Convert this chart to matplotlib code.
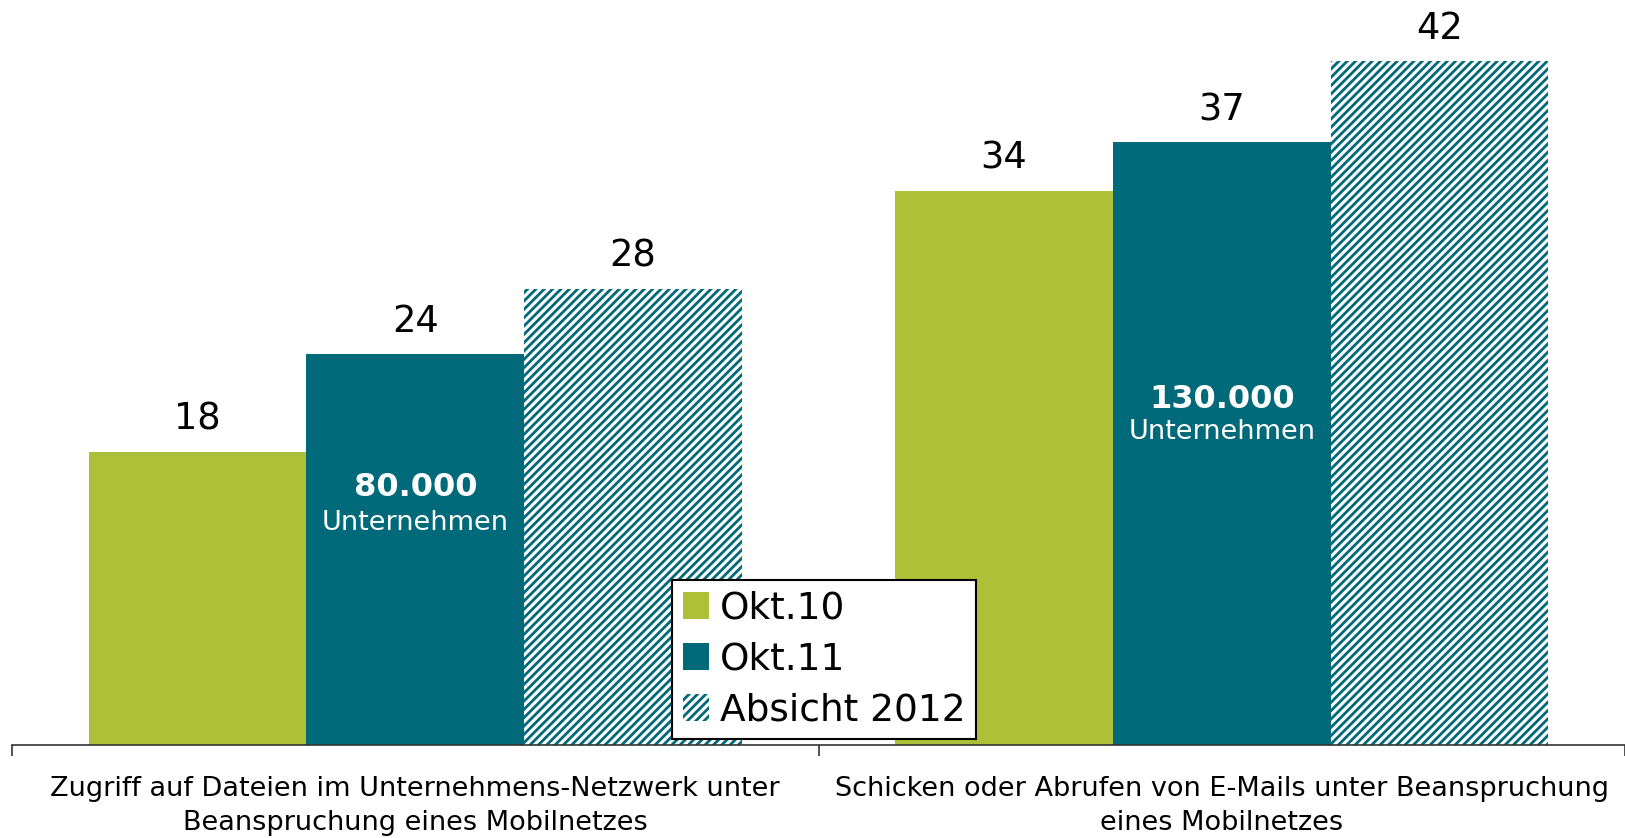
import matplotlib
matplotlib.use("Agg")
import matplotlib.pyplot as plt
import numpy as np

categories = ["Zugriff auf Dateien im Unternehmens-Netzwerk unter\nBeanspruchung eines Mobilnetzes",
              "Schicken oder Abrufen von E-Mails unter Beanspruchung\neines Mobilnetzes"]
series_names = ["Okt.10", "Okt.11", "Absicht 2012"]
okt10 = [18, 34]
okt11 = [24, 37]
absicht2012 = [28, 42]
inner_counts = ["80.000", "130.000"]
inner_unit = "Unternehmen"

GREEN = "#AEBF38"
TEAL = "#00697A"

plt.rcParams['font.family'] = ['DejaVu Sans']
plt.rcParams['hatch.linewidth'] = 2.0
plt.rcParams['hatch.color'] = TEAL

fig = plt.figure(figsize=(16.25, 8.38), dpi=100)
ax = fig.add_axes([12/1625, 1 - 745/838, 1 - 12/1625, 745/838])

x = np.arange(len(categories))
w = 0.27
b1 = ax.bar(x - w, okt10, w, color=GREEN, label=series_names[0], linewidth=0)
b2 = ax.bar(x, okt11, w, color=TEAL, label=series_names[1], linewidth=0)
b3 = ax.bar(x + w, absicht2012, w, facecolor="white", edgecolor=TEAL, hatch="////",
            label=series_names[2], linewidth=0)

for bars in (b1, b2, b3):
    for r in bars:
        ax.annotate(f"{r.get_height():g}", (r.get_x() + r.get_width()/2, r.get_height()),
                    xytext=(0, 16), textcoords="offset points", ha="center", va="baseline",
                    fontsize=26.5, color="black")

inner_y = [(15.8, 13.6), (21.2, 19.2)]
for i, (cnt, (y1, y2)) in enumerate(zip(inner_counts, inner_y)):
    ax.text(x[i], y1, cnt, ha="center", va="center", color="white", fontsize=23, fontweight="bold")
    ax.text(x[i], y2, inner_unit, ha="center", va="center", color="white", fontsize=19.5)

ax.set_xlim(-0.5, 1.5)
ax.set_ylim(0, 745/16.29)
for s in ("top", "right", "left"):
    ax.spines[s].set_visible(False)
ax.spines["bottom"].set_linewidth(1.2)
ax.spines["bottom"].set_color("#333333")
ax.set_yticks([])
ax.set_xticks([-0.5, 0.5, 1.5])
ax.set_xticklabels([])
ax.tick_params(axis="x", direction="out", length=8, width=1.2, color="#333333")
ax.set_xticks(x, minor=True)
ax.set_xticklabels(categories, minor=True, fontsize=19.5, linespacing=1.42)
ax.tick_params(axis="x", which="minor", length=0, pad=22)

leg = ax.legend(loc="lower left", bbox_to_anchor=(672/1625, 99/838), bbox_transform=fig.transFigure,
                borderaxespad=0, fontsize=27, frameon=True, fancybox=False, framealpha=1,
                handlelength=0.7, handleheight=0.7, handletextpad=0.3, labelspacing=0.4,
                borderpad=0.28)
leg.get_frame().set_edgecolor("black")
leg.get_frame().set_linewidth(1.5)

fig.savefig("out.png", dpi=100)
